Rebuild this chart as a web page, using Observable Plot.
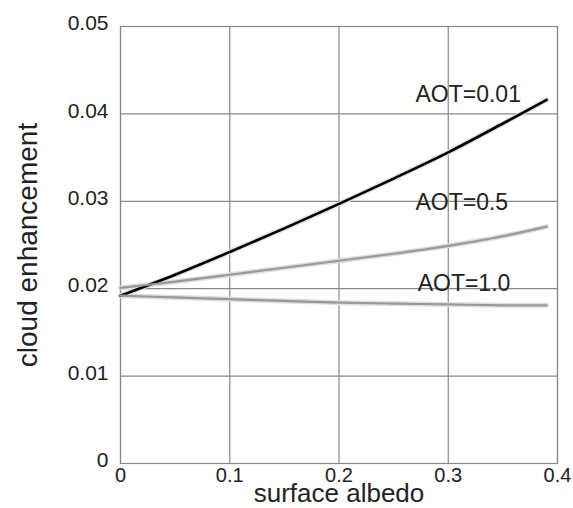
<!DOCTYPE html>
<html>
<head>
<meta charset="utf-8">
<script src="https://cdn.jsdelivr.net/npm/d3@7"></script>
<script src="https://cdn.jsdelivr.net/npm/@observablehq/plot@0.6"></script>
<style>
  body { margin: 0; background: #fff; }
  svg { font-family: "Liberation Sans", Arial, sans-serif; }
</style>
</head>
<body>
<div id="chart"></div>
<script>
const albedo = [0, 0.05, 0.1, 0.15, 0.2, 0.25, 0.3, 0.35, 0.39];
const aot001 = [0.0192, 0.0216, 0.0242, 0.0269, 0.0297, 0.0326, 0.0356, 0.0389, 0.0416];
const aot05  = [0.0201, 0.0208, 0.0216, 0.0224, 0.0232, 0.0240, 0.0249, 0.0260, 0.0271];
const aot10  = [0.0192, 0.0190, 0.0188, 0.0186, 0.0184, 0.0183, 0.0182, 0.0181, 0.0181];
const seriesNames = ["AOT=0.01", "AOT=0.5", "AOT=1.0"];
const labelX = [0.27, 0.27, 0.272];
const labelY = [0.0422, 0.0298, 0.0206];
const xTicks = [0, 0.1, 0.2, 0.3, 0.4];
const yTicks = [0, 0.01, 0.02, 0.03, 0.04, 0.05];

const seriesVals = [aot001, aot05, aot10];
const data = [];
seriesVals.forEach((vals, s) => vals.forEach((v, i) => data.push({series: seriesNames[s], x: albedo[i], y: v})));
const labels = seriesNames.map((n, i) => ({name: n, x: labelX[i], y: labelY[i]}));
const colorOf = {"AOT=0.01": "#000", "AOT=0.5": "#999", "AOT=1.0": "#999"};
const widthOf = {"AOT=0.01": 2.6, "AOT=0.5": 2.2, "AOT=1.0": 2.2};

const chart = Plot.plot({
  width: 573,
  height: 508,
  marginLeft: 120,
  marginRight: 16,
  marginTop: 26,
  marginBottom: 45,
  style: {fontFamily: "'Liberation Sans', Arial, sans-serif", color: "#222", background: "#fff"},
  x: {domain: [0, 0.4]},
  y: {domain: [0, 0.05]},
  marks: [
    Plot.gridX(xTicks, {stroke: "#888", strokeOpacity: 1, strokeWidth: 1.2}),
    Plot.gridY(yTicks, {stroke: "#888", strokeOpacity: 1, strokeWidth: 1.2}),
    Plot.frame({stroke: "#888", strokeWidth: 1.2}),
    Plot.axisX({ticks: xTicks, tickSize: 0, tickPadding: 4, fontSize: 20, tickFormat: d => String(d), label: null}),
    Plot.axisY({ticks: yTicks, tickSize: 0, tickPadding: 12, fontSize: 21, dy: -3, tickFormat: d => String(d), label: null}),
    Plot.axisX({ticks: [], tickSize: 0, label: "surface albedo", labelAnchor: "center", labelOffset: 38, labelArrow: "none", fontSize: 26}),
    Plot.axisY({ticks: [], tickSize: 0, label: "cloud enhancement", labelAnchor: "center", labelOffset: 103, labelArrow: "none", fontSize: 28}),
    Plot.line(data, {x: "x", y: "y", z: "series", stroke: "#ddd", strokeWidth: 5, curve: "catmull-rom"}),
    Plot.line(data, {x: "x", y: "y", z: "series", stroke: d => colorOf[d.series], strokeWidth: d => widthOf[d.series], curve: "catmull-rom"}),
    Plot.text(labels, {x: "x", y: "y", text: "name", textAnchor: "start", fontSize: 23, fill: "#222"})
  ]
});
document.getElementById("chart").appendChild(chart);
</script>
</body>
</html>
